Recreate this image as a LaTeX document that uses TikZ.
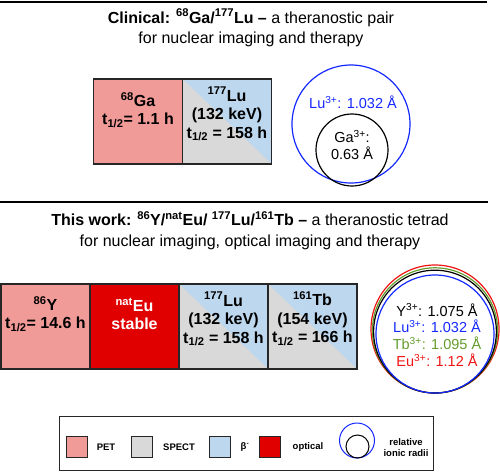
\documentclass[tikz,border=0pt]{standalone}
\usepackage{fontspec}
\setmainfont{Liberation Sans}
\definecolor{petpink}{RGB}{241,155,152}
\definecolor{optred}{RGB}{224,0,0}
\definecolor{spectgray}{RGB}{217,217,217}
\definecolor{betablue}{RGB}{189,215,238}
\definecolor{boxline}{RGB}{38,38,38}
\definecolor{lublue}{RGB}{20,40,255}
\definecolor{tbgreen}{RGB}{100,155,45}
\definecolor{eured}{RGB}{240,20,20}
\tikzset{
  box/.style={draw=boxline, line width=1.2pt, minimum width=89pt, minimum height=85pt, inner sep=0pt, outer sep=0pt},
  petbox/.style={box, fill=petpink},
  optbox/.style={box, fill=optred},
  splitbox/.style={box, fill=betablue, path picture={\fill[spectgray] (path picture bounding box.north west) -- (path picture bounding box.south east) -- (path picture bounding box.south west) -- cycle;}},
  boxtext/.style={font=\fontsize{16}{18.5}\selectfont\bfseries, align=center, inner sep=0pt, text=black},
  titletext/.style={font=\fontsize{16}{20.5}\selectfont, align=center, inner sep=0pt},
  radtext/.style={font=\fontsize{14.5}{16.8}\selectfont, align=center, inner sep=0pt},
  ring/.style={circle, draw, line width=1.2pt, inner sep=0pt, outer sep=0pt},
  legsq/.style={draw=boxline, line width=1pt, minimum size=21pt, inner sep=0pt},
  legtext/.style={font=\fontsize{9.5}{11}\selectfont\bfseries, align=center, inner sep=0pt},
  sepline/.style={line width=2pt, draw=black}
}
\begin{document}
\begin{tikzpicture}[x=1pt,y=-1pt]
\useasboundingbox (0,0) rectangle (500,471);
% separators
\coordinate (s1a) at (0,1.5); \coordinate (s1b) at (487,1.5);
\coordinate (s2a) at (0,202); \coordinate (s2b) at (488,202);
\draw[sepline] (s1a) -- (s1b);
\draw[sepline] (s2a) -- (s2b);
% title 1
\node[titletext] (t1) at (251,28) {\textbf{Clinical: \textsuperscript{68}Ga/\textsuperscript{177}Lu –} a theranostic pair\\for nuclear imaging and therapy};
% top boxes
\node[petbox] (ga) at (138,121.5) {};
\node[splitbox] (lu1) at (227,121.5) {};
\node[boxtext] (gatxt) at (138,110) {\textsuperscript{68}Ga\\t\textsubscript{1/2}= 1.1 h};
\node[boxtext] (lu1txt) at (227,114) {\textsuperscript{177}Lu\\(132 keV)\\t\textsubscript{1/2} = 158 h};
% top circles
\node[ring, draw=lublue, minimum size=118pt] (lucirc) at (351,124) {};
\node[ring, draw=black, minimum size=72pt] (gacirc) at (352,150) {};
\node[radtext, text=lublue] (lurad) at (353,102) {Lu\textsuperscript{3+}: 1.032 Å};
\node[radtext] (garad) at (352,145) {Ga\textsuperscript{3+}:\\0.63 Å};
% title 2
\node[titletext] (t2) at (250,230.5) {\textbf{This work: \textsuperscript{86}Y/\textsuperscript{nat}Eu/ \textsuperscript{177}Lu/\textsuperscript{161}Tb –} a theranostic tetrad\\for nuclear imaging, optical imaging and therapy};
% bottom boxes
\node[petbox] (y) at (45.5,326.5) {};
\node[optbox] (eu) at (134.5,326.5) {};
\node[splitbox] (lu2) at (223.5,326.5) {};
\node[splitbox] (tb) at (312.5,326.5) {};
\node[boxtext] (ytxt) at (45.5,314) {\textsuperscript{86}Y\\t\textsubscript{1/2}= 14.6 h};
\node[boxtext, text=white] (eutxt) at (134.5,314) {\textsuperscript{nat}Eu\\stable};
\node[boxtext] (lu2txt) at (223.5,319) {\textsuperscript{177}Lu\\(132 keV)\\t\textsubscript{1/2} = 158 h};
\node[boxtext] (tbtxt) at (312.5,318.5) {\textsuperscript{161}Tb\\(154 keV)\\t\textsubscript{1/2} = 166 h};
% bottom circles
\node[ring, draw=eured, minimum size=128pt] (eucirc) at (435,329) {};
\node[ring, draw=tbgreen, minimum size=125.2pt] (tbcirc) at (435,330.4) {};
\node[ring, draw=black, minimum size=122.8pt] (ycirc) at (435,331.6) {};
\node[ring, draw=lublue, minimum size=118pt] (lu2circ) at (435,334) {};
\node[radtext] (rad2) at (437,335) {Y\textsuperscript{3+}: 1.075 Å\\\textcolor{lublue}{Lu\textsuperscript{3+}: 1.032 Å}\\\textcolor{tbgreen}{Tb\textsuperscript{3+}: 1.095 Å}\\\textcolor{eured}{Eu\textsuperscript{3+}: 1.12 Å}};
% legend
\node[draw=boxline, line width=1pt, minimum width=374pt, minimum height=54pt, inner sep=0pt] (legend) at (246,443) {};
\node[legsq, fill=petpink] (lpet) at (76.5,446.5) {};
\node[legsq, fill=spectgray] (lspect) at (141.5,446.5) {};
\node[legsq, fill=betablue] (lbeta) at (219.5,446.5) {};
\node[legsq, fill=optred] (lopt) at (270,446.5) {};
\node[legtext] (lpett) at (106,447) {PET};
\node[legtext] (lspectt) at (179,447) {SPECT};
\node[legtext] (lbetat) at (245,447) {β\textsuperscript{-}};
\node[legtext] (loptt) at (308,447) {optical};
\node[ring, draw=lublue, line width=1pt, minimum size=35pt] (lbig) at (357,440.5) {};
\node[ring, draw=black, line width=1pt, minimum size=23pt] (lsmall) at (357.5,446.5) {};
\node[legtext] (lrad) at (406,447.5) {relative\\ionic radii};
\end{tikzpicture}
\end{document}
